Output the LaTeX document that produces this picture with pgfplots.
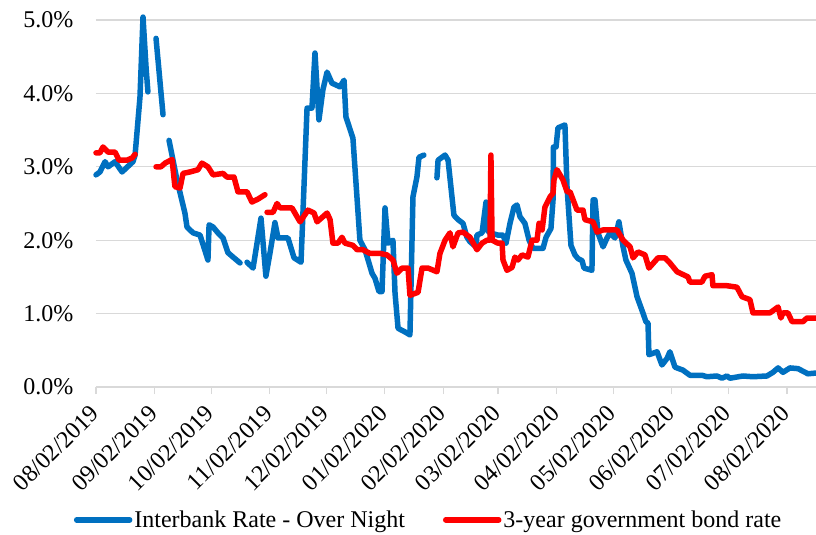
\documentclass[border=0pt]{standalone}
\usepackage{pgfplots}
\pgfplotsset{compat=1.18}
\usepackage{fontspec}
\setmainfont{Liberation Serif}
\definecolor{ibblue}{HTML}{0070C0}
\definecolor{bondred}{HTML}{FF0000}
\definecolor{gridgray}{HTML}{D9D9D9}
\begin{document}
\begin{tikzpicture}
\begin{axis}[
  scale only axis, width=720pt, height=367pt,
  xmin=0, xmax=381.4, ymin=0, ymax=5,
  clip=false,
  axis lines*=left,
  x axis line style={draw=gridgray, line width=1.3pt, -},
  y axis line style={draw=none},
  /pgf/number format/assume math mode=true,
  font=\fontsize{24}{28}\selectfont,
  xtick={0,31,61,92,122,153,184,213,244,274,305,335,366},
  xticklabels={08/02/2019,09/02/2019,10/02/2019,11/02/2019,12/02/2019,01/02/2020,02/02/2020,03/02/2020,04/02/2020,05/02/2020,06/02/2020,07/02/2020,08/02/2020},
  x tick label style={rotate=45, anchor=east, inner sep=2pt},
  xticklabel shift=14pt,
  ytick={0,1,2,3,4,5},
  yticklabels={0.0\%,1.0\%,2.0\%,3.0\%,4.0\%,5.0\%},
  yticklabel shift=12pt,
  ymajorgrids, grid style={draw=gridgray, line width=1.3pt},
  tick align=outside, major tick length=7pt,
  xtick style={draw=gridgray, line width=1.3pt},
  ytick style={draw=none},
  unbounded coords=jump,
  legend style={at={(0.462,-0.362)}, anchor=center, draw=none, fill=none,
    legend columns=2, font=\fontsize{24}{28}\selectfont,
    /tikz/every even column/.append style={column sep=36pt}},
  legend image code/.code={\draw[#1] (0pt,0pt) -- (53pt,0pt);},
]
\addplot[ibblue, line width=5.5pt, line join=round, line cap=round] table {
x y
0 2.89
2.1 2.93
4.8 3.07
6.4 3.00
10.1 3.07
13.8 2.93
19.6 3.07
20.7 3.16
23.3 3.95
24.9 5.04
26.5 4.36
27.5 4.02
29 nan
31.8 4.75
35.5 3.71
37 nan
38.7 3.36
42.9 2.82
47.1 2.37
48.2 2.18
51.4 2.10
55.1 2.07
59.3 1.73
59.9 2.21
62.0 2.18
64.6 2.10
67.3 2.03
69.9 1.83
72.6 1.77
76.3 1.69
78 nan
80.0 1.70
83.2 1.62
87.4 2.30
90.0 1.51
92.2 1.83
94.8 2.24
96.4 2.03
101.7 2.03
104.9 1.76
108.6 1.70
111.8 3.80
114.4 3.80
116.0 4.55
118.1 3.64
120.2 4.05
122.4 4.29
125.0 4.14
129.2 4.09
131.4 4.18
132.4 3.68
136.1 3.39
139.8 2.00
142.5 1.87
144.6 1.69
146.2 1.55
147.8 1.48
149.9 1.30
151.5 1.30
153.1 2.44
154.7 1.96
157.3 2.00
158.4 1.28
160.0 0.80
163.7 0.75
166.3 0.71
167.9 2.59
170.0 2.86
171.1 3.13
173.7 3.16
177 nan
180.6 2.85
181.2 3.09
184.9 3.16
186.5 3.09
189.6 2.34
191.8 2.28
194.4 2.23
196.5 2.04
198.1 1.98
201.3 1.91
201.8 2.07
204.5 2.10
206.6 2.52
207.1 2.14
208.7 2.10
212.9 2.07
215.6 2.07
217.2 1.96
219.3 2.23
221.4 2.45
223.0 2.48
224.6 2.32
227.2 2.23
229.4 2.00
231.5 1.89
236.8 1.89
238.4 2.04
241.0 2.16
242.1 2.55
242.3 3.27
243.7 3.27
244.7 3.53
248.4 3.57
249.5 2.73
251.6 1.93
253.7 1.80
255.3 1.75
257.5 1.72
258.5 1.62
262.7 1.59
263.3 2.55
264.3 2.55
265.9 2.10
268.6 1.91
270.7 2.03
272.3 2.10
274.9 2.03
277.0 2.25
279.2 1.91
280.7 1.73
283.9 1.55
286.6 1.23
289.7 1.01
291.3 0.89
292.4 0.87
292.9 0.44
295.1 0.46
297.2 0.48
299.8 0.30
302.5 0.39
304.0 0.48
306.7 0.27
310.9 0.23
314.6 0.16
321.0 0.16
323.6 0.14
328.9 0.15
331.6 0.12
334.2 0.15
335.8 0.12
342.7 0.15
348.0 0.14
355.4 0.15
358.6 0.20
361.3 0.26
363.9 0.20
367.6 0.26
371.9 0.25
377.1 0.18
381.4 0.19
};
\addlegendentry{Interbank Rate - Over Night}
\addplot[bondred, line width=5.5pt, line join=round, line cap=round] table {
x y
0 3.19
2.1 3.19
3.7 3.27
6.4 3.20
10.1 3.20
12.2 3.09
16.4 3.09
19.1 3.12
20.7 3.17
26 nan
31.8 3.00
34.4 3.00
36.6 3.05
40.3 3.10
41.8 2.73
44.5 2.71
46.1 2.91
49.8 2.93
54.0 2.96
56.1 3.05
59.3 3.00
62.0 2.89
67.3 2.91
69.4 2.86
73.1 2.86
75.2 2.66
80.0 2.66
82.6 2.52
85.8 2.56
89.5 2.62
90 nan
90.6 2.38
93.8 2.38
95.9 2.50
97.5 2.44
103.8 2.44
108.1 2.25
112.3 2.41
115.5 2.37
117.1 2.25
120.2 2.32
122.4 2.37
124.0 2.28
125.5 1.96
128.2 1.96
130.3 2.04
131.9 1.96
136.1 1.93
138.3 1.87
141.4 1.87
145.1 1.82
150.4 1.82
154.1 1.80
157.3 1.73
159.4 1.55
162.1 1.62
165.3 1.62
166.3 1.25
170.6 1.29
172.7 1.62
175.9 1.62
180.6 1.57
182.2 1.82
184.9 2.00
187.5 2.10
189.1 1.91
191.8 2.10
194.4 2.11
198.1 2.04
201.8 1.87
204.5 1.96
207.1 2.00
208.7 2.00
209.2 3.16
209.8 2.00
212.9 1.96
215.1 1.96
215.6 1.73
217.7 1.59
220.4 1.63
221.9 1.77
223.5 1.73
225.7 1.80
228.8 1.77
231.0 2.00
233.6 2.00
234.7 2.23
236.3 2.14
237.8 2.45
240.5 2.59
242.1 2.64
242.6 2.82
244.2 2.96
247.4 2.82
249.5 2.66
251.1 2.66
254.8 2.41
258.0 2.41
259.0 2.28
263.3 2.25
265.4 2.11
268.6 2.14
276.0 2.14
279.2 2.00
282.9 1.91
284.5 1.76
287.1 1.84
290.8 1.80
292.9 1.62
297.7 1.76
301.4 1.76
304.0 1.69
307.8 1.57
313.6 1.50
314.6 1.43
321.0 1.43
322.6 1.51
326.3 1.53
326.8 1.38
334.2 1.38
339.5 1.36
342.2 1.23
346.4 1.19
348.0 1.01
357.0 1.01
361.3 1.09
362.8 0.94
363.9 1.01
366.5 1.01
368.7 0.89
374.5 0.89
376.6 0.94
381.4 0.94
};
\addlegendentry{3-year government bond rate}
\end{axis}
\pgfresetboundingbox
\path[use as bounding box] (-96pt,-148pt) rectangle (720pt,387pt);
\end{tikzpicture}
\end{document}
